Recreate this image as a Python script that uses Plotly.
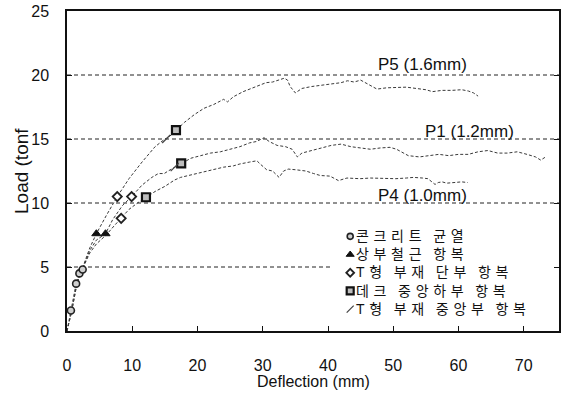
import plotly.graph_objects as go

# ---------------- data ----------------
p5_x = [0, 0.6, 1.4, 2.0, 2.5, 3.5, 4.5, 6.0, 7.7, 9.5, 11.5, 13.5, 15.0, 15.5, 16.7, 18.0, 19.5, 21.0, 22.5, 24.0,
        24.6, 25.5, 27.0, 28.5, 29.5, 30.5, 31.5, 32.5, 33.3, 33.8, 34.2, 35.0, 36.0, 37.5, 39.0, 40.5, 42.0, 43.0,
        44.0, 45.0, 46.0, 46.8, 47.5, 49.0, 50.5, 52.0, 53.5, 55.0, 56.0, 57.5, 59.0, 60.5, 61.5, 62.3, 63.0]
p5_y = [0, 1.5, 3.7, 4.5, 5.1, 6.5, 7.6, 9.0, 10.5, 11.9, 13.2, 14.4, 15.0, 15.1, 15.7, 16.3, 16.9, 17.4, 17.7, 18.1,
        17.9, 18.3, 18.7, 19.0, 19.2, 19.4, 19.45, 19.6, 19.75, 19.6, 19.1, 18.6, 18.95, 19.1, 19.2, 19.3, 19.4, 19.55,
        19.45, 19.6, 19.3, 19.1, 18.9, 19.0, 19.0, 19.05, 18.95, 18.85, 18.7, 18.8, 18.8, 18.85, 18.75, 18.6, 18.35]

p1_x = [0, 0.7, 1.5, 2.0, 2.5, 3.5, 4.5, 5.9, 7.0, 8.5, 9.9, 11.5, 13.0, 14.0, 14.9, 15.5, 16.5, 17.5, 19.0, 20.5,
        22.0, 23.5, 25.0, 26.5, 28.0, 29.0, 30.2, 31.0, 32.2, 33.5, 34.5, 35.3, 36.0, 37.5, 39.0, 40.5, 42.0, 43.5,
        45.0, 46.5, 48.0, 49.5, 50.5, 51.5, 52.3, 54.0, 55.6, 57.0, 58.5, 60.0, 61.5, 63.0, 64.5, 66.0, 67.5, 69.0,
        70.5, 71.8, 72.6, 73.5]
p1_y = [0, 1.5, 3.7, 4.4, 5.0, 6.3, 7.1, 7.6, 8.7, 9.8, 10.5, 11.4, 12.0, 12.3, 12.3, 12.5, 12.8, 13.1, 13.5, 13.7,
        13.9, 14.0, 14.2, 14.4, 14.7, 14.8, 15.1, 14.8, 14.5, 14.4, 14.2, 13.6, 13.9, 14.1, 14.3, 14.5, 14.6, 14.4,
        14.3, 14.2, 14.3, 14.35, 14.2, 13.9, 13.7, 13.6, 13.7, 13.8, 13.7, 13.8, 13.8, 14.0, 14.1, 13.9, 13.9, 14.0,
        13.8, 13.6, 13.35, 13.65]

p4_x = [0, 0.7, 1.5, 2.0, 2.5, 3.5, 4.5, 6.0, 7.2, 8.3, 9.5, 10.8, 12.1, 13.5, 15.0, 16.5, 17.4, 19.0, 20.5, 22.4,
        24.0, 25.5, 26.5, 28.0, 29.1, 29.6, 30.6, 31.5, 32.5, 33.2, 33.9, 35.0, 36.6, 37.8, 38.8, 40.3, 41.6, 42.9,
        44.9, 46.5, 48.5, 50.4, 52.0, 53.1, 54.5, 55.3, 55.8, 56.4, 56.9, 57.5, 58.2, 59.5, 60.5, 61.4]
p4_y = [0, 1.5, 3.6, 4.5, 5.0, 6.1, 6.8, 7.5, 8.2, 8.8, 9.5, 10.0, 10.45, 10.9, 11.3, 11.8, 12.0, 12.2, 12.4, 12.65,
        12.8, 12.9, 13.05, 13.2, 13.3, 13.05, 12.6, 12.5, 12.0, 12.5, 12.65, 12.6, 12.5, 12.3, 12.15, 12.1, 11.75,
        11.95, 11.9, 11.95, 11.9, 11.9, 11.95, 12.0, 11.95, 11.9, 11.7, 11.45, 11.6, 11.65, 11.55, 11.6, 11.65, 11.6]

# event markers
crack_x = [0.6, 1.4, 1.9, 2.4]
crack_y = [1.6, 3.7, 4.5, 4.8]
rebar_x = [4.5, 5.9]
rebar_y = [7.6, 7.6]
tend_x = [7.7, 9.9, 8.3]
tend_y = [10.5, 10.5, 8.8]
deck_x = [16.7, 17.5, 12.1]
deck_y = [15.7, 13.1, 10.45]
tmid_x = [15.2, 16.5]
tmid_y = [15.0, 12.8]

legend_labels = ["콘크리트 균열", "상부철근 항복", "T형 부재 단부 항복",
                 "데크 중앙하부 항복", "T형 부재 중앙부 항복"]

ref_levels = [5, 10, 15, 20]
ref_x_end = [40.5, 75.4, 75.4, 75.4]
curve_labels = ["P5 (1.6mm)", "P1 (1.2mm)", "P4 (1.0mm)"]
curve_label_x = [54.5, 61.7, 54.5]
curve_label_y = [20, 15, 10]

x_ticks = [0, 10, 20, 30, 40, 50, 60, 70]
y_ticks = [0, 5, 10, 15, 20, 25]

# ---------------- styles ----------------
FONT = "Liberation Sans, Arial, Noto Sans CJK KR, sans-serif"
LINE = dict(color="#3a3a3a", width=1, dash="3px,2px")

sym_styles = [
    dict(symbol="circle", size=7, color="#cfcfcf", line=dict(color="#222", width=1.6)),
    dict(symbol="triangle-up", size=8, color="#111", line=dict(color="#111", width=1)),
    dict(symbol="diamond", size=7, color="#ffffff", line=dict(color="#222", width=1.8)),
    dict(symbol="square", size=8, color="#bdbdbd", line=dict(color="#111", width=2.2)),
    dict(symbol="line-ne", size=8, color="#444", line=dict(color="#444", width=1.2)),
]

fig = go.Figure()

for xs, ys in [(p5_x, p5_y), (p1_x, p1_y), (p4_x, p4_y)]:
    fig.add_trace(go.Scatter(x=xs, y=ys, mode="lines", line=LINE, showlegend=False, hoverinfo="skip"))

marker_sets = [(crack_x, crack_y), (rebar_x, rebar_y), (tend_x, tend_y), (deck_x, deck_y), (tmid_x, tmid_y)]
for (xs, ys), st in zip(marker_sets, sym_styles):
    fig.add_trace(go.Scatter(x=xs, y=ys, mode="markers", marker=st, showlegend=False))

# custom compact legend: one multi-line text block, markers aligned to its lines
LEG_FONT = 14
PX_PER_Y = 320 / 25.0
LEG_MX, LEG_TX, LEG_YMID = 43.4, 44.0, 4.55
LEG_DY = 1.3 * LEG_FONT / PX_PER_Y
n = len(legend_labels)
for i, st in enumerate(sym_styles):
    yy = LEG_YMID + ((n - 1) / 2 - i) * LEG_DY
    s = dict(st)
    s["size"] = max(6, st["size"] - 1)
    fig.add_trace(go.Scatter(x=[LEG_MX], y=[yy], mode="markers", marker=s, showlegend=False))


def widen(t):
    # mimic the wide letter spacing of the original typeface
    return "\u2004".join(list(t)).replace("\u2004 \u2004", "\u00a0\u00a0\u00a0")


fig.add_annotation(x=LEG_TX, y=LEG_YMID, text="<br>".join(widen(t) for t in legend_labels),
                   showarrow=False, xanchor="left", yanchor="middle", align="left",
                   font=dict(family=FONT, size=LEG_FONT, color="#111"))

shapes = []
for lv, xe in zip(ref_levels, ref_x_end):
    shapes.append(dict(type="line", x0=0, x1=xe, y0=lv, y1=lv, xref="x", yref="y", layer="below",
                       line=dict(color="#222", width=1, dash="4px,3px")))

yshifts = [-1, -4, -4]
for lab, lx, ly, ys in zip(curve_labels, curve_label_x, curve_label_y, yshifts):
    fig.add_annotation(x=lx, y=ly, text=lab, showarrow=False, xanchor="center", yanchor="bottom", yshift=ys,
                       font=dict(family=FONT, size=17, color="#111"), bgcolor="rgba(0,0,0,0)")

# axis titles placed as annotations relative to the plot area
fig.add_annotation(x=0.5, y=0, xref="paper", yref="paper", text="Deflection (mm)", showarrow=False,
                   xanchor="center", yanchor="middle", yshift=-50, font=dict(family=FONT, size=16, color="#111"))
fig.add_annotation(x=0, y=0.5, xref="paper", yref="paper", text="Load (tonf", showarrow=False, textangle=-90,
                   xanchor="center", yanchor="middle", xshift=-46, font=dict(family=FONT, size=19, color="#111"))

fig.update_layout(
    width=564, height=393,
    margin=dict(l=67, r=5, t=11, b=62),
    paper_bgcolor="white", plot_bgcolor="white",
    shapes=shapes,
    font=dict(family=FONT, size=16, color="#111"),
    xaxis=dict(range=[0, 75.4], tickvals=x_ticks, showgrid=False, zeroline=False, automargin=False,
               showline=True, linecolor="#111", linewidth=1.5, mirror=True,
               ticks="inside", ticklen=5, tickcolor="#111", ticklabelstandoff=19,
               tickfont=dict(size=16)),
    yaxis=dict(range=[0, 25], tickvals=y_ticks, showgrid=False, zeroline=False, automargin=False,
               showline=True, linecolor="#111", linewidth=1.5, mirror="ticks",
               ticks="inside", ticklen=5, tickcolor="#111", ticklabelstandoff=13,
               tickfont=dict(size=16)),
)

fig.write_html("out.html", config={"displayModeBar": False},
               post_script="document.body.style.margin='0';document.body.style.overflow='hidden';")
